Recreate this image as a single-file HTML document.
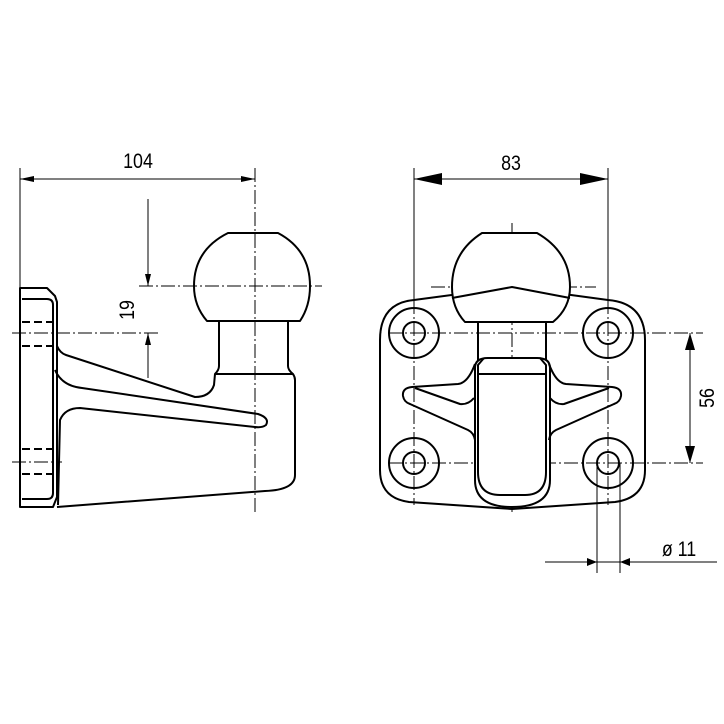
<!DOCTYPE html>
<html><head><meta charset="utf-8"><style>
html,body{margin:0;padding:0;background:#fff;}
svg{display:block;}
text{font-family:"Liberation Sans",sans-serif;fill:#000;}
</style></head><body>
<svg width="724" height="724" viewBox="0 0 724 724" xmlns="http://www.w3.org/2000/svg">
<g fill="none" stroke="#000" stroke-width="1">
<line x1="20" y1="168" x2="20" y2="290"/>
<line x1="255" y1="168" x2="255" y2="512" stroke-dasharray="14,3,2,3"/>
<line x1="20" y1="179" x2="255" y2="179"/>
<line x1="148" y1="199" x2="148" y2="286"/>
<line x1="148" y1="333" x2="148" y2="378"/>
<line x1="139" y1="286" x2="322" y2="286" stroke-dasharray="14,3,2,3"/>
<line x1="12" y1="333" x2="160" y2="333" stroke-dasharray="14,3,2,3"/>
<line x1="12" y1="462" x2="62" y2="462" stroke-dasharray="14,3,2,3"/>
</g>
<g fill="#000">
<polygon points="20,179 34,176 34,182"/>
<polygon points="255,179 241,176 241,182"/>
<polygon points="148,286 145,274 151,274"/>
<polygon points="148,333 145,345 151,345"/>
</g>
<g fill="none" stroke="#000" stroke-width="2" stroke-linejoin="round">
<path d="M20,288 L47,288 L55,296 L57,302 L57,497 L53,507 L20,507 Z"/>
<path d="M22,299 L47,299 Q53,299 53,305 L53,493 Q53,499 47,499 L22,499"/>
<path d="M228,233 L278,233 Q310,250 310,286 Q310,306 300,321 L207,321 Q194,306 194,286 Q194,250 228,233 Z"/>
<path d="M219,321 L219,366 Q219,370 215,374"/>
<path d="M288,321 L288,366 Q288,370 293,374"/>
<path d="M57,346 Q60,353 66,355 L195,397 Q210,397 214,385 L215,374 L293,374 Q295,377 295,380 L295,475 Q295,490 265,491 L57,507"/>
<path d="M55,370 Q62,386 82,388 L258,414 Q270,418 266,425 Q262,428 255,427 L80,408 Q65,408 60,420 L58,505"/>
</g>
<g fill="none" stroke="#000" stroke-width="2" stroke-dasharray="8,4">
<line x1="22" y1="322" x2="55" y2="322"/>
<line x1="22" y1="346" x2="55" y2="346"/>
<line x1="22" y1="449" x2="53" y2="449"/>
<line x1="22" y1="474" x2="53" y2="474"/>
</g>
<text transform="translate(138,168) scale(0.85,1)" font-size="21" text-anchor="middle">104</text>
<text transform="translate(134,310) rotate(-90) scale(0.85,1)" font-size="21" text-anchor="middle">19</text>

<g fill="none" stroke="#000" stroke-width="1">
<line x1="414" y1="168" x2="414" y2="300"/>
<line x1="608" y1="168" x2="608" y2="300"/>
<line x1="414" y1="179" x2="608" y2="179"/>
<line x1="414" y1="300" x2="414" y2="505" stroke-dasharray="14,3,2,3"/>
<line x1="608" y1="300" x2="608" y2="505" stroke-dasharray="14,3,2,3"/>
<line x1="512" y1="223" x2="512" y2="512" stroke-dasharray="14,3,2,3"/>
<line x1="431" y1="287" x2="596" y2="287" stroke-dasharray="14,3,2,3"/>
<line x1="388" y1="333" x2="703" y2="333" stroke-dasharray="14,3,2,3"/>
<line x1="388" y1="463" x2="703" y2="463" stroke-dasharray="14,3,2,3"/>
<line x1="690" y1="333" x2="690" y2="463"/>
<line x1="597" y1="463" x2="597" y2="573"/>
<line x1="620" y1="463" x2="620" y2="573"/>
<line x1="545" y1="562" x2="717" y2="562"/>
</g>
<g fill="#000">
<polygon points="414,179 442,173 442,185"/>
<polygon points="608,179 580,173 580,185"/>
<polygon points="690,333 685,350 695,350"/>
<polygon points="690,463 685,446 695,446"/>
<polygon points="597,562 587,558 587,566"/>
<polygon points="620,562 630,558 630,566"/>
</g>
<g fill="none" stroke="#000" stroke-width="2" stroke-linejoin="round">
<path d="M512,287 L608,300 Q645,303 645,340 L645,470 Q645,498 615,502 L512,509 L409,502 Q380,498 380,470 L380,340 Q380,303 414,300 Z"/>
<path d="M482,233 L537,233 Q570,252 570,287 Q570,308 553,322 L465,322 Q452,308 452,287 Q452,252 482,233 Z" fill="#fff"/>
<path d="M452,298 L512,287 L570,298"/>
<line x1="478" y1="322" x2="478" y2="360"/>
<line x1="546" y1="322" x2="546" y2="360"/>
<circle cx="414" cy="333" r="25"/><circle cx="414" cy="333" r="11"/>
<circle cx="608" cy="333" r="25"/><circle cx="608" cy="333" r="11"/>
<circle cx="414" cy="463" r="25"/><circle cx="414" cy="463" r="11"/>
<circle cx="608" cy="463" r="25"/><circle cx="608" cy="463" r="11"/>
<path d="M475,480 L475,368 Q475,358 488,358 L537,358 Q550,358 550,368 L550,480 Q550,507 512,507 Q475,507 475,480 Z" fill="#fff"/>
<path d="M478,374 L478,365 L484,358"/>
<path d="M546,374 L546,365 L540,358"/>
<line x1="478" y1="374" x2="546" y2="374"/>
<path d="M478,374 L478,472 Q478,495 500,495 L525,495 Q546,495 546,472 L546,374"/>
<path d="M475,364 Q468,383 458,384 L412,387 Q402,388 403,396 Q404,402 410,404 L468,430 Q474,433 475,440"/>
<path d="M415,388 L460,404 Q468,405 474,398"/>
<path d="M549,364 Q556,383 566,384 L612,387 Q622,388 621,396 Q620,402 614,404 L556,430 Q550,433 549,440"/>
<path d="M609,388 L564,404 Q556,405 550,398"/>
</g>
<text transform="translate(511,170) scale(0.85,1)" font-size="21" text-anchor="middle">83</text>
<text transform="translate(714,398) rotate(-90) scale(0.85,1)" font-size="21" text-anchor="middle">56</text>
<text transform="translate(679,556) scale(0.85,1)" font-size="21" text-anchor="middle">ø 11</text>
</svg>
</body></html>
